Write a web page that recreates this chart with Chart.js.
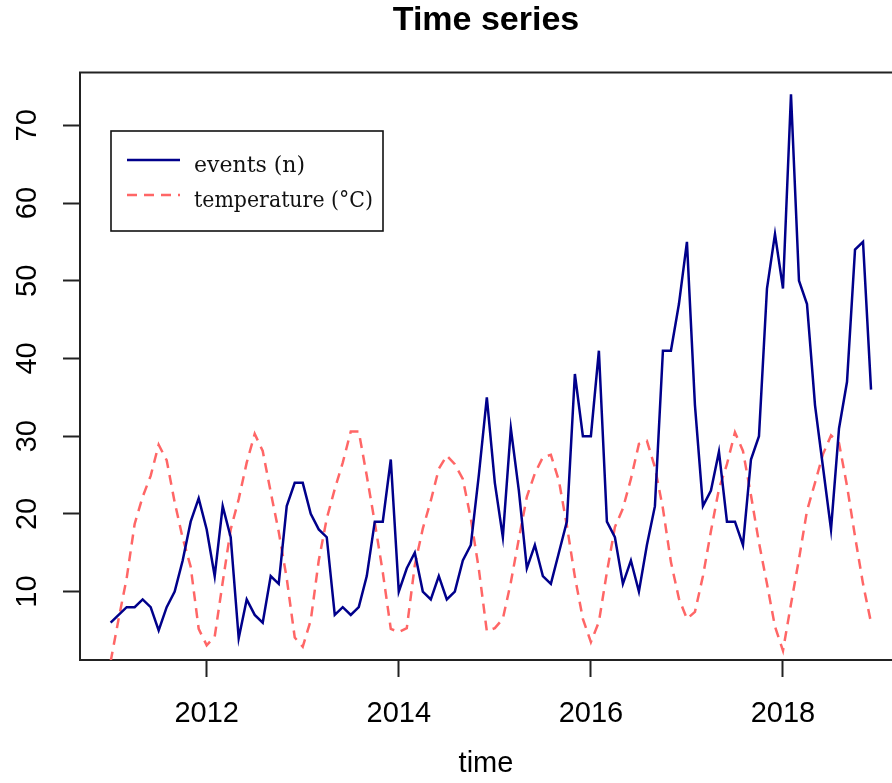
<!DOCTYPE html>
<html>
<head>
<meta charset="utf-8">
<title>Time series</title>
<script src="https://cdn.jsdelivr.net/npm/chart.js@4.4.1/dist/chart.umd.min.js"></script>
<style>
  html, body { margin: 0; padding: 0; background: #fff; overflow: hidden; }
</style>
</head>
<body>
<canvas id="tsChart" width="892" height="783"></canvas>
<script>
// monthly series, Jan 2011 .. Dec 2018
const startYear = 2011;
const events = [
  6, 7, 8, 8, 9, 8, 5, 8, 10, 14, 19, 22,
  18, 12, 21, 17, 4, 9, 7, 6, 12, 11, 21, 24,
  24, 20, 18, 17, 7, 8, 7, 8, 12, 19, 19, 27,
  10, 13, 15, 10, 9, 12, 9, 10, 14, 16, 25, 35,
  24, 17, 31, 23, 13, 16, 12, 11, 15, 19, 38, 30,
  30, 41, 19, 17, 11, 14, 10, 16, 21, 41, 41, 47,
  55, 34, 21, 23, 28, 19, 19, 16, 27, 30, 49, 56,
  49, 74, 50, 47, 34, 26, 18, 31, 37, 54, 55, 36
];
const temperature = [
  1.0, 6.5, 11.7, 18.7, 22.2, 24.9, 28.9, 26.9, 21.5, 16.9, 13.2, 5.2,
  3.1, 4.2, 11.2, 18.0, 21.9, 26.6, 30.3, 28.1, 22.8, 17.7, 11.7, 4.1,
  2.9, 6.3, 14.0, 19.4, 23.2, 26.6, 30.6, 30.6, 24.9, 18.9, 12.5, 5.2,
  4.8, 5.3, 13.4, 18.1, 21.7, 25.8, 27.5, 26.4, 24.5, 19.4, 12.9, 4.9,
  5.3, 6.5, 11.2, 16.8, 22.2, 25.2, 27.3, 27.6, 24.3, 18.5, 11.9, 6.5,
  3.5, 6.1, 12.5, 18.3, 20.7, 24.5, 29.0, 29.4, 26.0, 20.7, 13.8, 9.1,
  6.5, 7.4, 12.0, 17.8, 23.2, 26.4, 30.5, 28.1, 22.4, 16.3, 11.0, 5.5,
  2.4, 8.4, 14.2, 20.4, 24.0, 27.7, 30.1, 29.1, 23.6, 17.1, 11.0, 6.0
];
const xTickYears = [2012, 2014, 2016, 2018];
const yTickValues = [10, 20, 30, 40, 50, 60, 70];
const xLimits = [2010.681, 2019.135];
const yLimits = [1.2, 76.8];

const months = events.map((_, i) => startYear + i / 12);
const sans = '"Liberation Sans", Arial, Helvetica, sans-serif';
const axisColor = '#222';

// top edge of the plot box (R draws a full box, right side is cut off)
const boxTop = {
  id: 'boxTop',
  afterDraw(chart) {
    const { ctx, chartArea } = chart;
    ctx.save();
    ctx.strokeStyle = axisColor;
    ctx.lineWidth = 2;
    ctx.beginPath();
    ctx.moveTo(chartArea.left - 1, chartArea.top);
    ctx.lineTo(chartArea.right, chartArea.top);
    ctx.stroke();
    ctx.restore();
  }
};

// legend in a box inside the plot, like R's legend()
const legendBox = {
  id: 'legendBox',
  afterDatasetsDraw(chart) {
    const { ctx, chartArea } = chart;
    const x0 = chartArea.left + 31;
    const y0 = chartArea.top + 58.5;
    ctx.save();
    ctx.fillStyle = '#fff';
    ctx.fillRect(x0, y0, 272, 100);
    ctx.strokeStyle = '#111';
    ctx.lineWidth = 1.6;
    ctx.strokeRect(x0, y0, 272, 100);
    ctx.font = '22px "DejaVu Serif", serif';
    ctx.textBaseline = 'middle';
    chart.data.datasets.forEach((ds, i) => {
      const y = y0 + 29 + i * 35;
      ctx.beginPath();
      ctx.setLineDash(ds.borderDash || []);
      ctx.strokeStyle = ds.borderColor;
      ctx.lineWidth = ds.borderWidth;
      ctx.moveTo(x0 + 16, y);
      ctx.lineTo(x0 + 69, y);
      ctx.stroke();
      ctx.setLineDash([]);
      ctx.fillStyle = '#111';
      ctx.fillText(ds.label, x0 + 83, y + 6, 179);
    });
    ctx.restore();
  }
};

new Chart(document.getElementById('tsChart'), {
  type: 'line',
  data: {
    datasets: [
      {
        label: 'events (n)',
        data: months.map((x, i) => ({ x, y: events[i] })),
        borderColor: '#00008B',
        borderWidth: 2.5,
        pointRadius: 0,
        tension: 0,
        fill: false
      },
      {
        label: 'temperature (°C)',
        data: months.map((x, i) => ({ x, y: temperature[i] })),
        borderColor: '#FF6666',
        borderWidth: 2.5,
        borderDash: [10, 7],
        pointRadius: 0,
        tension: 0,
        fill: false
      }
    ]
  },
  options: {
    responsive: false,
    animation: false,
    layout: { padding: 0 },
    plugins: {
      legend: { display: false },
      tooltip: { enabled: false },
      title: {
        display: true,
        text: 'Time series',
        color: '#000',
        fullSize: false,
        font: { family: sans, size: 34, weight: 'bold' },
        padding: { top: 0, bottom: 31.7 }
      }
    },
    scales: {
      x: {
        type: 'linear',
        min: xLimits[0],
        max: xLimits[1],
        afterBuildTicks: s => { s.ticks = xTickYears.map(v => ({ value: v })); },
        afterFit: s => { s.height = 123; },
        ticks: {
          callback: v => String(v),
          color: '#000',
          font: { family: sans, size: 29 },
          padding: 20,
          maxRotation: 0,
          autoSkip: false
        },
        grid: { drawOnChartArea: false, drawTicks: true, tickLength: 17, tickColor: axisColor, tickWidth: 2 },
        border: { display: true, color: axisColor, width: 2 },
        title: {
          display: true,
          text: 'time',
          color: '#000',
          font: { family: sans, size: 29 },
          padding: { top: 0, bottom: 2 }
        }
      },
      y: {
        min: yLimits[0],
        max: yLimits[1],
        afterBuildTicks: s => { s.ticks = yTickValues.map(v => ({ value: v })); },
        afterFit: s => { s.width = 80; },
        ticks: {
          color: '#000',
          font: { family: sans, size: 29 },
          minRotation: 90,
          maxRotation: 90,
          crossAlign: 'center',
          padding: 19,
          autoSkip: false
        },
        grid: { drawOnChartArea: false, drawTicks: true, tickLength: 17, tickColor: axisColor, tickWidth: 2 },
        border: { display: true, color: axisColor, width: 2 }
      }
    }
  },
  plugins: [boxTop, legendBox]
});
</script>
</body>
</html>
